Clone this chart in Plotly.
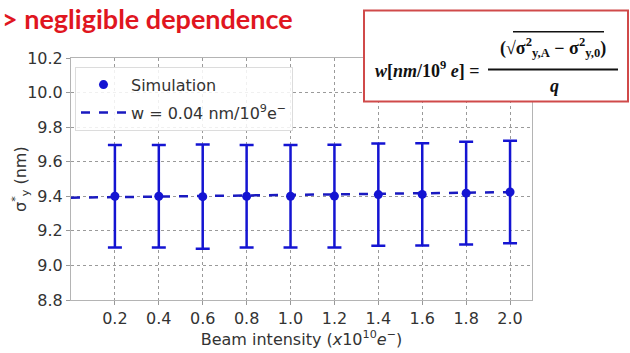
import plotly.graph_objects as go

# Beam intensity (x10^10 e-) and simulated vertical beam size at the IP
intensity = [0.2, 0.4, 0.6, 0.8, 1.0, 1.2, 1.4, 1.6, 1.8, 2.0]
sigma_y = [9.400, 9.400, 9.398, 9.400, 9.400, 9.401, 9.410, 9.411, 9.418, 9.425]
sigma_err = [0.297, 0.297, 0.302, 0.297, 0.297, 0.297, 0.296, 0.296, 0.297, 0.297]

# Linear fit endpoints
fit_x = [0.0, 2.0]
fit_y = [9.392, 9.424]

x_ticks = [0.2, 0.4, 0.6, 0.8, 1.0, 1.2, 1.4, 1.6, 1.8, 2.0]
y_ticks = [8.8, 9.0, 9.2, 9.4, 9.6, 9.8, 10.0, 10.2]

W, H = 630, 353
L, R, T, B = 71, 98, 58, 45
PW, PH = W - L - R, H - T - B


def px(x):
    return (x - L) / PW


def py(y):
    return (H - B - y) / PH


BLUE = "#1414d2"
TXT = "#333"

fig = go.Figure()
fig.add_trace(go.Scatter(
    x=fit_x, y=fit_y, mode="lines",
    line=dict(color="#1a1ac0", width=2.5, dash="dash"),
    name="w = 0.04 nm/10<sup>9</sup>e<sup>−</sup>",
    legendgroup="fit", legendrank=2,
))
fig.add_trace(go.Scatter(
    x=intensity, y=sigma_y, mode="markers",
    marker=dict(color=BLUE, size=9),
    error_y=dict(type="data", array=sigma_err, visible=True,
                 color=BLUE, thickness=2.5, width=7),
    name="Simulation",
    legendgroup="sim", legendrank=1,
))

axis_common = dict(
    showgrid=True, gridcolor="#9a9a9a", griddash="dot", gridwidth=1,
    showline=True, linecolor="#b4b4b4", linewidth=1, mirror=True,
    ticks="outside", ticklen=4, tickcolor="#999",
    tickfont=dict(family="DejaVu Sans", size=16, color=TXT),
    zeroline=False,
)

fig.update_xaxes(
    range=[0.0, 2.1], tickvals=x_ticks,
    ticktext=[f"{v:.1f}" for v in x_ticks],
    title=dict(text="Beam intensity (<i>x</i>10<sup>10</sup><i>e</i><sup>−</sup>)",
               font=dict(family="DejaVu Sans", size=16, color=TXT), standoff=2),
    **axis_common,
)
fig.update_yaxes(
    range=[8.8, 10.2], tickvals=y_ticks,
    ticktext=[f"{v:.1f}" for v in y_ticks],
    **axis_common,
)

# y-axis title
fig.add_annotation(
    xref="paper", yref="paper", x=px(20), y=py(183),
    xanchor="center", yanchor="middle", showarrow=False, textangle=-90,
    text="σ<sup>*</sup><sub>y</sub> (nm)",
    font=dict(family="DejaVu Sans", size=16, color=TXT),
)

fig.update_layout(
    width=W, height=H,
    margin=dict(l=L, r=R, t=T, b=B),
    paper_bgcolor="white", plot_bgcolor="white",
    showlegend=True,
    legend=dict(
        x=px(75), y=py(67), xanchor="left", yanchor="top",
        bgcolor="rgba(255,255,255,0.85)", bordercolor="#dcdcdc", borderwidth=1,
        font=dict(family="DejaVu Sans", size=16, color=TXT),
        traceorder="grouped", tracegroupgap=4, itemwidth=45,
    ),
)

# Heading
fig.add_annotation(
    xref="paper", yref="paper", x=px(0), y=py(17),
    xanchor="left", yanchor="middle", showarrow=False,
    text="<b>&gt; negligible dependence</b>",
    font=dict(family="Lato", size=27, color="#e0161f"),
)

# Formula box
fig.add_shape(type="rect", xref="paper", yref="paper",
              x0=px(364), x1=px(628), y0=py(9), y1=py(103),
              line=dict(color="#d04a4a", width=2), fillcolor="white", layer="above")

SERIF = "Liberation Serif"
fig.add_annotation(
    xref="paper", yref="paper", x=px(373), y=py(70),
    xanchor="left", yanchor="middle", showarrow=False,
    text="<b><i>w</i>[<i>nm</i>/10<sup>9</sup> <i>e</i>] =</b>",
    font=dict(family=SERIF, size=18, color="#111"),
)
fig.add_annotation(
    xref="paper", yref="paper", x=px(553), y=py(47),
    xanchor="center", yanchor="middle", showarrow=False,
    text="<b>(√σ<sup>2</sup><sub>y,A</sub> − σ<sup>2</sup><sub>y,0</sub>)</b>",
    font=dict(family=SERIF, size=18, color="#111"),
)
# square-root bar
fig.add_shape(type="line", xref="paper", yref="paper",
              x0=px(513), x1=px(604), y0=py(31), y1=py(31),
              line=dict(color="#111", width=1.5), layer="above")
# fraction bar
fig.add_shape(type="line", xref="paper", yref="paper",
              x0=px(488), x1=px(618), y0=py(70), y1=py(70),
              line=dict(color="#111", width=2), layer="above")
fig.add_annotation(
    xref="paper", yref="paper", x=px(554), y=py(87),
    xanchor="center", yanchor="middle", showarrow=False,
    text="<b><i>q</i></b>",
    font=dict(family=SERIF, size=18, color="#111"),
)

fig.write_html("out.html")
